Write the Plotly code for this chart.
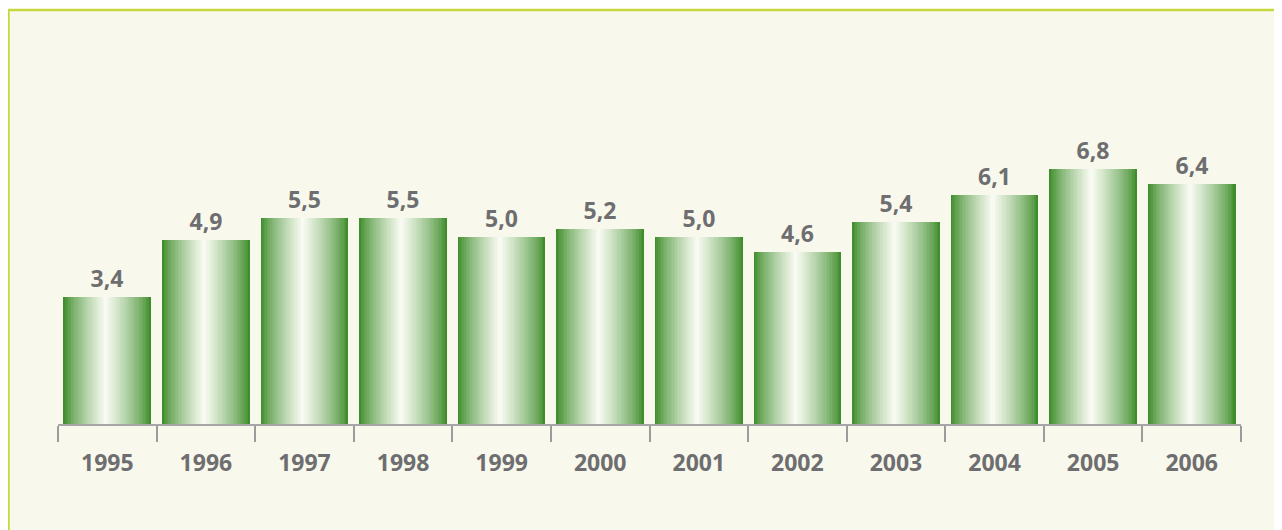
import plotly.graph_objects as go

# ---- data ----
years = ["1995", "1996", "1997", "1998", "1999", "2000",
         "2001", "2002", "2003", "2004", "2005", "2006"]
values = [3.4, 4.9, 5.5, 5.5, 5.0, 5.2, 5.0, 4.6, 5.4, 6.1, 6.8, 6.4]
labels = [f"{v:.1f}".replace(".", ",") for v in values]

# ---- style ----
# page has an 8px body margin, so the figure is drawn 8px in from the corner
W, H = 1274, 522
ML, MR, MT, MB = 50, 41, 41, 106
BAR_W = 0.89
N_STRIPS = 56
EDGE = (54, 136, 34)
MID = (250, 252, 244)
PEAK = 0.48
TEXT_COL = "#6e6e70"
FONT = "Open Sans"

def strip_color(t):
    if t <= PEAK:
        f = t / PEAK
    else:
        f = (1 - t) / (1 - PEAK)
    f = max(0.0, min(1.0, f)) ** 0.75
    c = [round(EDGE[k] + (MID[k] - EDGE[k]) * f) for k in range(3)]
    return f"rgb({c[0]},{c[1]},{c[2]})"

fig = go.Figure()
sw = BAR_W / N_STRIPS
for i in range(N_STRIPS):
    t = (i + 0.5) / N_STRIPS
    fig.add_trace(go.Bar(
        x=years, y=values,
        width=sw * 1.35,
        offset=-BAR_W / 2 + i * sw - (sw * 0.35 if i == N_STRIPS - 1 else 0),
        marker=dict(color=strip_color(t), line=dict(width=0)),
        hoverinfo="skip", showlegend=False,
    ))

# value labels
fig.add_trace(go.Bar(
    x=years, y=values, width=BAR_W,
    marker=dict(color="rgba(0,0,0,0)", line=dict(width=0)),
    text=labels, textposition="outside", constraintext="none",
    cliponaxis=False,
    textfont=dict(family=FONT, size=23, color=TEXT_COL, weight="bold"),
    hoverinfo="skip", showlegend=False,
))

pw = W - ML - MR
ph = H - MT - MB
fig.add_shape(
    type="rect", xref="paper", yref="paper", layer="below",
    x0=(0.5 - ML) / pw, x1=(W + 20 - ML) / pw,
    y0=(H - MB - (H + 20)) / ph, y1=(H - MB - 2) / ph,
    fillcolor="#f8f9ec", line=dict(color="#c6d83e", width=2.5),
)

fig.update_layout(
    width=W, height=H,
    margin=dict(l=ML, r=MR, t=MT, b=MB),
    paper_bgcolor="white", plot_bgcolor="rgba(0,0,0,0)",
    barmode="overlay", bargap=0,
    xaxis=dict(
        type="category", tickson="boundaries", ticks="outside",
        ticklen=16, tickwidth=1.5, tickcolor="#9c9c9c",
        showline=True, linecolor="#a6a6a6", linewidth=2,
        showgrid=False, zeroline=False,
        ticklabelstandoff=17,
        tickfont=dict(family=FONT, size=23, color=TEXT_COL, weight="bold"),
        range=[-0.5, 11.5],
    ),
    yaxis=dict(range=[0, 10], visible=False, showgrid=False, zeroline=False),
)

fig.write_html("out.html")
